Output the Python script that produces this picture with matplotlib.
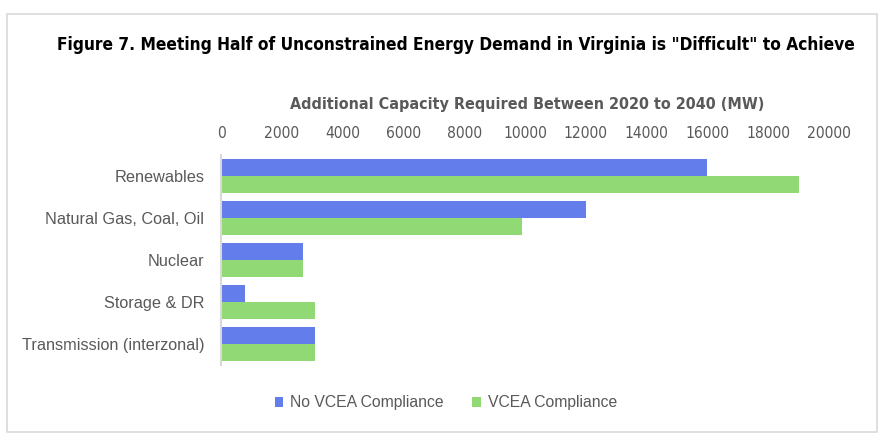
import matplotlib
matplotlib.use("Agg")
import matplotlib.pyplot as plt
import numpy as np
from matplotlib.patches import Rectangle
from matplotlib.font_manager import FontProperties

categories = ["Renewables", "Natural Gas, Coal, Oil", "Nuclear", "Storage & DR", "Transmission (interzonal)"]
no_vcea = [16000, 12000, 2700, 800, 3100]
vcea = [19000, 9900, 2700, 3100, 3100]
xticks = [0, 2000, 4000, 6000, 8000, 10000, 12000, 14000, 16000, 18000, 20000]

BLUE = "#637DEB"
GREEN = "#91D974"
GRAY = "#595959"
REG = ["Liberation Sans", "DejaVu Sans"]

def narrow(size, bold=False):
    return FontProperties(family=["DejaVu Sans"], stretch="condensed", size=size,
                          weight="bold" if bold else "normal")

fig = plt.figure(figsize=(8.86, 4.47), dpi=100)
W, H = 886, 447
ax = fig.add_axes([221 / W, 1 - 365 / H, (829 - 221) / W, (365 - 155) / H])

y = np.arange(len(categories))
h = 0.405
ax.barh(y - h / 2, no_vcea, height=h, color=BLUE, label="No VCEA Compliance")
ax.barh(y + h / 2, vcea, height=h, color=GREEN, label="VCEA Compliance")

ax.set_xlim(0, 20000)
ax.set_ylim(len(categories) - 0.5, -0.5)
ax.set_yticks(y)
ax.set_yticklabels(categories, fontsize=11.7, color=GRAY, family=REG)
ax.xaxis.tick_top()
ax.set_xticks(xticks)
ax.set_xticklabels([str(t) for t in xticks], color=GRAY, fontproperties=narrow(11.2))
ax.tick_params(axis="both", length=0)
ax.tick_params(axis="x", pad=10)
ax.tick_params(axis="y", pad=12)
for s in ["top", "right", "bottom"]:
    ax.spines[s].set_visible(False)
ax.spines["left"].set_color("#D9D9D9")
ax.spines["left"].set_linewidth(1.5)

fig.text(57 / W, 1 - 45 / H, 'Figure 7. Meeting Half of Unconstrained Energy Demand in Virginia is "Difficult" to Achieve',
         fontproperties=narrow(12.45, True), color="black", ha="left", va="center")
fig.text(527 / W, 1 - 105 / H, "Additional Capacity Required Between 2020 to 2040 (MW)",
         fontproperties=narrow(11.5, True), color=GRAY, ha="center", va="center")

leg = fig.legend(loc="center", bbox_to_anchor=(446 / W, 1 - 403 / H), ncol=2, frameon=False,
                 prop={"family": REG, "size": 11.3}, handlelength=0.55, handleheight=0.55,
                 columnspacing=1.8, handletextpad=0.45)
for t in leg.get_texts():
    t.set_color(GRAY)

fig.patches.append(Rectangle((7 / W, 1 - 432 / H), (877 - 7) / W, (432 - 14) / H,
                             transform=fig.transFigure, fill=False, edgecolor="#D9D9D9", linewidth=1.2))

fig.savefig("out.png", dpi=100)
